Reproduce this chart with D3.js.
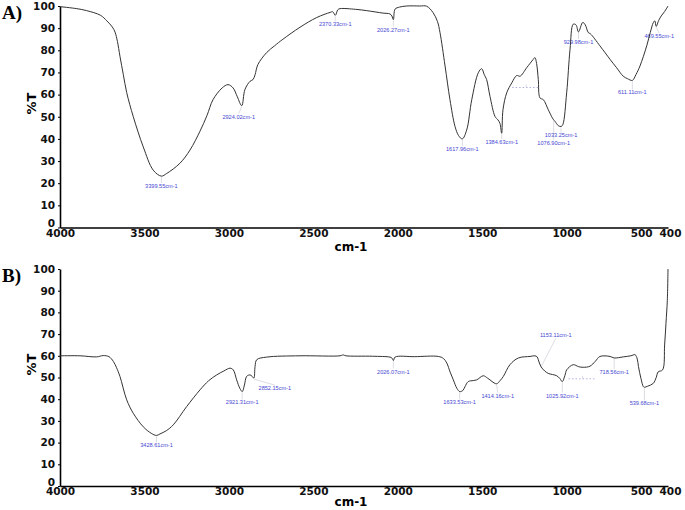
<!DOCTYPE html>
<html>
<head>
<meta charset="utf-8">
<script src="https://cdn.jsdelivr.net/npm/d3@7"></script>
<style>
  body { margin: 0; background: #fff; }
  svg { display: block; }
</style>
</head>
<body>
<svg id="chart" width="685" height="510"></svg>
<script>

// spectrum A : wavenumber (cm-1) / transmittance (%)
var waveA = [4000, 3900, 3842, 3760, 3723, 3690, 3674, 3660, 3645, 3625, 3605, 3566, 3507, 3448, 3400, 3368, 3290, 3230, 3171, 3130, 3094, 3040, 3005, 2975, 2950, 2924, 2905, 2875, 2857, 2845, 2828, 2776, 2730, 2680, 2579, 2480, 2401, 2385, 2370, 2355, 2342, 2250, 2184, 2088, 2046, 2035, 2026, 2016, 1990, 1947, 1870, 1829, 1791, 1765, 1750, 1720, 1691, 1661, 1640, 1618, 1592, 1562, 1523, 1503, 1488, 1474, 1454, 1424, 1407, 1395, 1385, 1377, 1355, 1325, 1296, 1276, 1237, 1198, 1188, 1178, 1168, 1158, 1138, 1109, 1085, 1077, 1069, 1050, 1033, 1023, 1000, 980, 961, 945, 930, 905, 890, 872, 860, 803, 743, 704, 665, 640, 611, 590, 566, 526, 505, 487, 478, 470, 455, 440, 420, 400];
var transA = [99.7, 98.8, 97.9, 95.8, 93.3, 90.5, 88.2, 84, 77.3, 69, 60.9, 50, 36.4, 25.9, 23.2, 24.4, 29, 35, 43.5, 50.5, 57.7, 63, 64.5, 63, 59, 55, 62.3, 66, 66.8, 69, 73.6, 79, 82, 85, 90.4, 94.8, 97.1, 97.4, 95.8, 98.3, 98.8, 98.5, 97.9, 96.8, 96.4, 95.5, 93.8, 98.6, 99.5, 100, 100, 99.9, 97, 93, 88, 72.9, 57.7, 45.6, 41.5, 40, 44, 57.7, 69.9, 71.7, 69, 66.8, 59.2, 50.1, 48.6, 47, 42.6, 53.2, 60.8, 65.3, 68.6, 68.3, 72.1, 75.9, 76.7, 74, 66.8, 58.5, 57.7, 53.2, 49.5, 48.6, 47.9, 46, 45.6, 46.4, 60.8, 80.5, 91.8, 91.5, 88.3, 92.6, 91.5, 88, 87.5, 82, 75.9, 72.1, 68.3, 67.2, 66.4, 69, 72.9, 82, 88, 92.5, 93.3, 90.8, 93.5, 95.5, 97.5, 100];

// spectrum B
var waveB = [4000, 3882, 3783, 3744, 3710, 3684, 3665, 3645, 3605, 3566, 3507, 3460, 3429, 3408, 3370, 3329, 3250, 3171, 3120, 3072, 3030, 2993, 2974, 2954, 2935, 2921, 2908, 2895, 2875, 2862, 2852, 2845, 2835, 2776, 2579, 2342, 2324, 2307, 2150, 2046, 2035, 2026, 2016, 1900, 1760, 1730, 1710, 1690, 1671, 1650, 1633, 1615, 1602, 1583, 1553, 1533, 1494, 1470, 1454, 1430, 1414, 1395, 1375, 1336, 1286, 1217, 1188, 1175, 1168, 1153, 1130, 1109, 1059, 1040, 1026, 1010, 1000, 961, 930, 902, 862, 830, 803, 743, 719, 665, 620, 595, 582, 575, 560, 546, 540, 520, 487, 470, 458, 432, 420, 412, 404, 400];
var transB = [60, 60, 59.5, 60.1, 59.6, 57.4, 54.5, 50.5, 39.7, 33.5, 27.3, 24.3, 23.3, 24, 25.5, 28.2, 36.6, 44.3, 48.5, 51.2, 53, 54.3, 53.5, 48.9, 45, 43.5, 46.5, 50.5, 51.2, 50.5, 49.7, 55.1, 58.2, 59.4, 60, 60, 60.4, 60, 59.8, 59.4, 59, 57.8, 59.4, 59.6, 59.7, 58.8, 56.7, 52.5, 48.9, 45, 43.5, 44, 45.8, 48.1, 48.6, 48.9, 50.8, 49.8, 48.9, 47.5, 47.1, 48.5, 50.5, 55.9, 59, 59.7, 60, 59.5, 58.2, 55.1, 53, 51.9, 50.8, 49.5, 48.1, 51, 53.5, 55.9, 55, 54.7, 55.2, 57.5, 59.7, 59.7, 59, 59.5, 60, 60.5, 58.5, 55.1, 49.5, 45.8, 45.5, 46, 47.3, 50, 52.6, 53.5, 65, 75, 85.6, 100];

// peak picks
var peaksA = [3399.55, 2924.02, 2370.33, 2026.27, 1617.96, 1384.63, 1076.90, 1033.25, 929.98, 611.11, 469.55];
var peaksB = [3428.61, 2921.31, 2852.15, 2026.07, 1633.53, 1414.16, 1153.11, 1025.92, 718.56, 539.68];
// where each pick label sits, relative to the curve (px)
var labelOffA = [[0, 10], [-3, 11], [0, 9], [0, 10], [0, 10], [0, 10], [0, 23], [0, 9], [0, 10], [0, 12], [3, 10]];
var labelOffB = [[0, 10], [0, 11], [21, 10], [0, 11], [0, 11], [1, 12], [15, -31], [0, 14], [0, 14], [0, 16]];
// collapsed pick markers (wavenumber, %T)
var collapsedA = [1240, 63.2];
var collapsedB = [906, 49.4];

var xTicks = [4000, 3500, 3000, 2500, 2000, 1500, 1000, 500, 400];
var yTicks = [0, 10, 20, 30, 40, 50, 60, 70, 80, 90, 100];

var svg = d3.select("#chart");

var x = d3.scaleLinear().domain([4000, 400]).range([60, 668]);

function drawPanel(name, top, bottom, titleGap, wave, trans, peaks, offs, collapsed) {
    var y = d3.scaleLinear().domain([0, 100]).range([bottom, top]);
    var g = svg.append("g");

    var pts = wave.map(function (w, i) { return [w, trans[i]]; });

    // value of the curve at a wavenumber
    function tAt(w) {
        for (var i = 0; i < wave.length - 1; i++) {
            if (w <= wave[i] && w >= wave[i + 1]) {
                var f = (wave[i] - w) / (wave[i] - wave[i + 1]);
                return trans[i] + f * (trans[i + 1] - trans[i]);
            }
        }
        return trans[trans.length - 1];
    }

    // axes
    var yAxis = g.append("g")
        .attr("transform", "translate(60,0)")
        .call(d3.axisLeft(y).tickValues(yTicks).tickSizeInner(2).tickSizeOuter(0).tickPadding(3));
    yAxis.select(".domain").attr("stroke", "#000").attr("stroke-width", 1.6);
    yAxis.selectAll(".tick line").attr("stroke", "#000");
    yAxis.selectAll(".tick text")
        .attr("font-family", "DejaVu Sans")
        .attr("font-weight", "bold")
        .attr("font-size", "10.5px")
        .attr("fill", "#111")
        .attr("dy", function (d) { return d === 0 ? "-0.05em" : "0.32em"; });

    var xAxis = g.append("g")
        .attr("transform", "translate(0," + bottom + ")")
        .call(d3.axisBottom(x).tickValues(xTicks).tickSize(0).tickPadding(2).tickFormat(d3.format("d")));
    xAxis.select(".domain").attr("stroke", "#000").attr("stroke-width", 1.6);
    xAxis.selectAll(".tick text")
        .attr("font-family", "DejaVu Sans")
        .attr("font-weight", "bold")
        .attr("font-size", "10.5px")
        .attr("fill", "#111")
        .attr("dx", function (d) { return d === 500 ? -10 : (d === 400 ? 2 : 0); });

    g.append("text")
        .attr("transform", "translate(36," + y(56) + ") rotate(-90)")
        .attr("text-anchor", "middle")
        .attr("font-family", "DejaVu Sans")
        .attr("font-weight", "bold")
        .attr("font-size", "13px")
        .text("%T");

    g.append("text")
        .attr("x", 351)
        .attr("y", bottom + titleGap)
        .attr("text-anchor", "middle")
        .attr("font-family", "DejaVu Sans")
        .attr("font-weight", "bold")
        .attr("font-size", "12px")
        .text("cm-1");

    g.append("text")
        .attr("x", 2)
        .attr("y", top + 13)
        .attr("font-family", "Liberation Serif")
        .attr("font-weight", "bold")
        .attr("font-size", "19px")
        .text(name);

    // pick labels
    peaks.forEach(function (p, i) {
        var cx = x(p), cy = y(tAt(p));
        var tx = cx + offs[i][0], ty = cy + offs[i][1];
        var ey = offs[i][1] > 0 ? ty - 3 : ty + 3;
        g.append("line")
            .attr("x1", cx).attr("y1", cy + 1)
            .attr("x2", tx).attr("y2", ey)
            .attr("stroke", "#c4c4d0")
            .attr("stroke-width", 0.6);
        g.append("text")
            .attr("x", tx)
            .attr("y", ty)
            .attr("dy", "0.35em")
            .attr("text-anchor", "middle")
            .attr("font-family", "Liberation Sans")
            .attr("font-size", "5.6px")
            .attr("fill", "#4646d2")
            .text(p.toFixed(2) + "cm-1");
    });

    // collapsed marker
    var mx = x(collapsed[0]), my = y(collapsed[1]);
    g.append("line")
        .attr("x1", mx - 14).attr("x2", mx + 14)
        .attr("y1", my).attr("y2", my)
        .attr("stroke", "#8f8fd8")
        .attr("stroke-width", 0.7)
        .attr("stroke-dasharray", "1.5,2");
    g.append("line")
        .attr("x1", mx).attr("x2", mx)
        .attr("y1", my - 3).attr("y2", my)
        .attr("stroke", "#c4c4d0")
        .attr("stroke-width", 0.6);

    var line = d3.line()
        .x(function (d) { return x(d[0]); })
        .y(function (d) { return y(d[1]); })
        .curve(d3.curveCatmullRom.alpha(0.5));

    g.append("path")
        .datum(pts)
        .attr("d", line)
        .attr("fill", "none")
        .attr("stroke", "#333")
        .attr("stroke-width", 1);
}

drawPanel("A)", 6, 227.5, 23, waveA, transA, peaksA, labelOffA, collapsedA);
drawPanel("B)", 269, 486, 20, waveB, transB, peaksB, labelOffB, collapsedB);

</script>
</body>
</html>
